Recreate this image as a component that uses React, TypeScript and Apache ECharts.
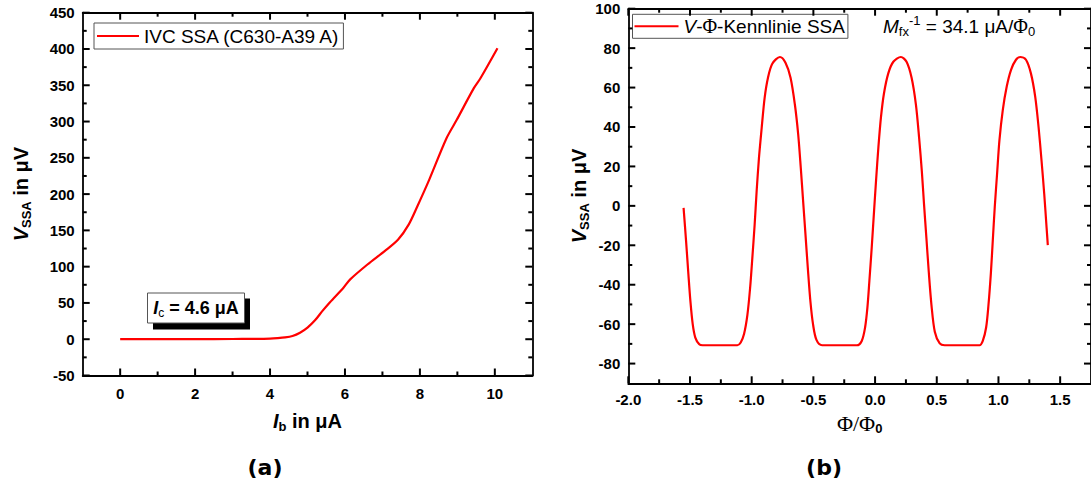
import React, { useEffect, useRef } from 'react';
import * as echarts from 'echarts';

// ---------- data ----------
// (a) IVC: bias current Ib in µA, voltage V_SSA in µV
const ibValues = [0, 1, 2, 3, 3.5, 4, 4.2, 4.4, 4.6, 4.8, 5.0, 5.2, 5.4, 5.6, 5.96, 6.14, 6.6, 7.06, 7.42, 7.7, 7.93, 8.25, 8.71, 8.98, 9.44, 9.62, 10.07];
const vssaIvc = [0, 0, 0.2, 0.3, 0.5, 0.9, 1.5, 2.5, 4.5, 9, 16, 26, 39, 51, 71, 82.5, 103, 121.5, 137.5, 158, 183, 220, 277, 302, 346, 360, 401];

// (b) V-Phi: flux in Phi0, voltage V_SSA in µV
const phiValues = [-1.552, -1.532, -1.513, -1.497, -1.478, -1.457, -1.425, -1.398, -1.116, -1.089, -1.062, -1.035, -1.013, -0.995, -0.976, -0.96, -0.941, -0.919, -0.895, -0.868, -0.833, -0.771, -0.726, -0.685, -0.65, -0.623, -0.602, -0.583, -0.564, -0.545, -0.524, -0.502, -0.475, -0.43, -0.148, -0.108, -0.081, -0.062, -0.046, -0.027, -0.008, 0.008, 0.027, 0.048, 0.072, 0.107, 0.148, 0.209, 0.255, 0.296, 0.331, 0.357, 0.379, 0.397, 0.416, 0.435, 0.457, 0.484, 0.524, 0.564, 0.847, 0.873, 0.9, 0.919, 0.938, 0.954, 0.97, 0.989, 1.008, 1.035, 1.067, 1.102, 1.142, 1.177, 1.223, 1.263, 1.298, 1.325, 1.349, 1.371, 1.39, 1.4];
const vssaPhi = [-1, -17.6, -34.6, -48.1, -60, -66.8, -70.2, -70.7, -70.7, -69.3, -65, -55.4, -41.8, -26.6, -9.6, 7.3, 24.3, 39.5, 54.8, 65, 72.1, 75.5, 72.6, 65, 51.4, 36.2, 19.2, 2.3, -14.6, -31.6, -48.5, -60.4, -68, -70.7, -70.7, -68.5, -61.7, -51.5, -38, -21, -2.4, 12.9, 29.8, 45.1, 57, 67.2, 73.1, 75.5, 73.1, 65, 51.4, 34.5, 17.5, 0.6, -16.3, -33.3, -50.3, -63.8, -69.8, -70.7, -70.7, -68.5, -61.7, -50.3, -34.6, -17.6, -0.6, 16.4, 33.3, 48.6, 60.5, 69, 74.1, 75.5, 74.1, 67.2, 55.3, 40, 23, 6, -11, -19.9];

// tick values
const leftXMajor = [0, 2, 4, 6, 8, 10];
const leftXMinor = [1, 3, 5, 7, 9];
const leftYMajor = [-50, 0, 50, 100, 150, 200, 250, 300, 350, 400, 450];
const leftYMinor = [-25, 25, 75, 125, 175, 225, 275, 325, 375, 425];
const rightXMajor = [-2, -1.5, -1, -0.5, 0, 0.5, 1, 1.5];
const rightXMinor = [-1.75, -1.25, -0.75, -0.25, 0.25, 0.75, 1.25];
const rightYMajor = [-80, -60, -40, -20, 0, 20, 40, 60, 80, 100];
const rightYMinor = [-70, -50, -30, -10, 10, 30, 50, 70, 90];

const seriesNameA = 'IVC SSA (C630-A39 A)';
const seriesNameB = 'V-Φ-Kennlinie SSA';

const FONT = "'Liberation Sans', Arial, Helvetica, sans-serif";
const SERIF = "'Liberation Serif', 'Times New Roman', serif";
const BLACK = '#000000';
const RED = '#ff0000';

const MAJOR_LEN = 7;
const MINOR_LEN = 4;
const TICK_W = 2;

type Ext = { min: number; max: number; ymin: number; ymax: number };
const L: Ext = { min: -1, max: 11, ymin: -50, ymax: 450 };
const R: Ext = { min: -2, max: 1.75, ymin: -90, ymax: 100 };

function labelStyle(ticks: number[], decimals: number, margin: number) {
  return {
    show: true,
    customValues: ticks,
    formatter: (v: number) => v.toFixed(decimals),
    fontSize: 15,
    fontWeight: 'bold',
    fontFamily: FONT,
    color: BLACK,
    margin,
  };
}

const titleRich = {
  b: { fontSize: 20, fontWeight: 'bold', fontFamily: FONT, color: BLACK, lineHeight: 24 },
  it: { fontSize: 20, fontWeight: 'bold', fontStyle: 'italic', fontFamily: FONT, color: BLACK, lineHeight: 24 },
  sub: { fontSize: 13, fontWeight: 'bold', fontFamily: FONT, color: BLACK, lineHeight: 10, verticalAlign: 'bottom' },
  phi: { fontSize: 22, fontFamily: SERIF, color: BLACK, lineHeight: 24 },
};

function valueAxis(gridIndex: number, position: string, min: number, max: number, extra: any) {
  return {
    type: 'value',
    gridIndex,
    position,
    min,
    max,
    splitLine: { show: false },
    axisTick: { show: false },
    axisLabel: { show: false },
    axisLine: { show: true, onZero: false, lineStyle: { color: BLACK, width: 1.8 } },
    ...extra,
  };
}

// static annotations
function annotationGraphics(): any[] {
  return [
    {
      type: 'group',
      left: 147,
      top: 292.5,
      children: [
        { type: 'rect', shape: { x: 5.5, y: 5.5, width: 97, height: 31 }, style: { fill: BLACK } },
        { type: 'rect', shape: { x: 0, y: 0, width: 97, height: 30 }, style: { fill: '#fff', stroke: '#555', lineWidth: 1 } },
        {
          type: 'text',
          x: 48.5,
          y: 15,
          style: {
            text: '{it|I}{sub|c}{b| = 4.6 μA}',
            align: 'center',
            verticalAlign: 'middle',
            rich: {
              b: { fontSize: 18, fontWeight: 'bold', fontFamily: FONT, fill: BLACK, lineHeight: 22 },
              it: { fontSize: 18, fontWeight: 'bold', fontStyle: 'italic', fontFamily: FONT, fill: BLACK, lineHeight: 22 },
              sub: { fontSize: 12, fontFamily: FONT, fill: BLACK, lineHeight: 9, verticalAlign: 'bottom' },
            },
          },
        },
      ],
    },
    {
      type: 'text',
      x: 883,
      y: 14,
      style: {
        text: '{it|M}{sub|fx}{sup|-1}{n| = 34.1 μA/}{phi|Φ}{sub|0}',
        align: 'left',
        verticalAlign: 'top',
        rich: {
          n: { fontSize: 19, fontFamily: FONT, fill: BLACK, lineHeight: 24 },
          it: { fontSize: 19, fontStyle: 'italic', fontFamily: FONT, fill: BLACK, lineHeight: 24 },
          phi: { fontSize: 20, fontFamily: SERIF, fill: BLACK, lineHeight: 24 },
          sub: { fontSize: 13, fontFamily: FONT, fill: BLACK, lineHeight: 10, verticalAlign: 'bottom' },
          sup: { fontSize: 13, fontFamily: FONT, fill: BLACK, lineHeight: 10, verticalAlign: 'top' },
        },
      },
    },
    {
      type: 'text',
      x: 265,
      y: 467,
      style: { text: '(a)', align: 'center', verticalAlign: 'middle', font: "bold 22px 'DejaVu Sans', sans-serif", fill: BLACK },
    },
    {
      type: 'text',
      x: 824,
      y: 467,
      style: { text: '(b)', align: 'center', verticalAlign: 'middle', font: "bold 22px 'DejaVu Sans', sans-serif", fill: BLACK },
    },
  ];
}

// inward tick marks on all four sides; positions come from the chart's own axis scales
function tickGraphics(chart: any, gridIndex: number, ext: Ext, xMajor: number[], xMinor: number[], yMajor: number[], yMinor: number[]) {
  const finder = { xAxisIndex: gridIndex, yAxisIndex: gridIndex };
  const out: any[] = [];
  const line = (x1: number, y1: number, x2: number, y2: number) =>
    out.push({ type: 'line', silent: true, z: 100, shape: { x1, y1, x2, y2 }, style: { stroke: BLACK, lineWidth: TICK_W } });
  const addX = (vals: number[], len: number) =>
    vals.forEach((v) => {
      const b = chart.convertToPixel(finder, [v, ext.ymin]);
      const t = chart.convertToPixel(finder, [v, ext.ymax]);
      line(b[0], b[1], b[0], b[1] - len);
      line(t[0], t[1], t[0], t[1] + len);
    });
  const addY = (vals: number[], len: number) =>
    vals.forEach((v) => {
      const l = chart.convertToPixel(finder, [ext.min, v]);
      const r = chart.convertToPixel(finder, [ext.max, v]);
      line(l[0], l[1], l[0] + len, l[1]);
      line(r[0], r[1], r[0] - len, r[1]);
    });
  addX(xMajor, MAJOR_LEN);
  addX(xMinor, MINOR_LEN);
  addY(yMajor, MAJOR_LEN);
  addY(yMinor, MINOR_LEN);
  return out;
}

function buildOption() {
  const xAxis: any[] = [
    valueAxis(0, 'bottom', L.min, L.max, {
      axisLabel: labelStyle(leftXMajor, 0, 10),
      name: '{it|I}{sub|b}{b| in μA}',
      nameLocation: 'middle',
      nameGap: 33,
      nameTextStyle: { rich: titleRich },
    }),
    valueAxis(1, 'bottom', R.min, R.max, {
      axisLabel: labelStyle(rightXMajor, 1, 9),
      name: '{phi|Φ/Φ}{sub|0}',
      nameLocation: 'middle',
      nameGap: 21,
      nameTextStyle: { rich: titleRich },
    }),
    valueAxis(0, 'top', L.min, L.max, {}),
    valueAxis(1, 'top', R.min, R.max, {}),
  ];

  const yAxis: any[] = [
    valueAxis(0, 'left', L.ymin, L.ymax, {
      axisLabel: labelStyle(leftYMajor, 0, 8),
      name: '{it|V}{sub|SSA}{b| in μV}',
      nameLocation: 'middle',
      nameRotate: 90,
      nameGap: 50,
      nameTextStyle: { rich: titleRich },
    }),
    valueAxis(1, 'left', R.ymin, R.ymax, {
      axisLabel: labelStyle(rightYMajor, 0, 8),
      name: '{it|V}{sub|SSA}{b| in μV}',
      nameLocation: 'middle',
      nameRotate: 90,
      nameGap: 37,
      nameTextStyle: { rich: titleRich },
    }),
    valueAxis(0, 'right', L.ymin, L.ymax, {}),
    valueAxis(1, 'right', R.ymin, R.ymax, {}),
  ];

  const legendText = { fontSize: 19, fontFamily: FONT, color: BLACK, lineHeight: 20 };

  return {
    animation: false,
    grid: [
      { left: 82.7, top: 12.7, width: 449.6, height: 362.8 },
      { left: 628.3, top: 8.7, width: 465, height: 374.6 },
    ],
    xAxis,
    yAxis,
    legend: [
      {
        data: [seriesNameA],
        left: 94,
        top: 23,
        icon: 'rect',
        itemWidth: 42,
        itemHeight: 2,
        padding: [3, 3, 3, 3],
        borderColor: '#555',
        borderWidth: 1,
        textStyle: legendText,
      },
      {
        data: [seriesNameB],
        left: 632.5,
        top: 14.3,
        icon: 'rect',
        itemWidth: 44,
        itemHeight: 2,
        padding: [2, 3, 2, 2],
        borderColor: '#555',
        borderWidth: 1,
        textStyle: {
          ...legendText,
          rich: {
            i: { fontSize: 19, fontStyle: 'italic', fontFamily: FONT, color: BLACK, lineHeight: 20 },
            p: { fontSize: 20, fontFamily: SERIF, color: BLACK, lineHeight: 20 },
            n: { fontSize: 19, fontFamily: FONT, color: BLACK, lineHeight: 20 },
          },
        },
        formatter: () => '{i|V}{n|-}{p|Φ}{n|-Kennlinie SSA}',
      },
    ],
    series: [
      {
        name: seriesNameA,
        type: 'line',
        xAxisIndex: 0,
        yAxisIndex: 0,
        data: ibValues.map((x, i) => [x, vssaIvc[i]]),
        showSymbol: false,
        symbol: 'none',
        smooth: 0.3,
        lineStyle: { color: RED, width: 2.2 },
        itemStyle: { color: RED },
      },
      {
        name: seriesNameB,
        type: 'line',
        xAxisIndex: 1,
        yAxisIndex: 1,
        data: phiValues.map((x, i) => [x, vssaPhi[i]]),
        showSymbol: false,
        symbol: 'none',
        smooth: 0.3,
        lineStyle: { color: RED, width: 2.2 },
        itemStyle: { color: RED },
      },
    ],
    graphic: annotationGraphics(),
  };
}

export default function App() {
  const ref = useRef<HTMLDivElement>(null);
  useEffect(() => {
    document.body.style.margin = '0';
    if (!ref.current) return;
    const chart = echarts.init(ref.current, null, { renderer: 'svg', width: 1091, height: 484 });
    chart.setOption(buildOption() as any);
    try {
      const ticks = [
        ...tickGraphics(chart, 0, L, leftXMajor, leftXMinor, leftYMajor, leftYMinor),
        ...tickGraphics(chart, 1, R, rightXMajor, rightXMinor, rightYMajor, rightYMinor),
      ];
      chart.setOption({ graphic: [...annotationGraphics(), ...ticks] } as any);
    } catch (e) {
      // keep the chart without tick marks if conversion fails
    }
    return () => chart.dispose();
  }, []);
  return <div ref={ref} style={{ width: 1091, height: 484 }} />;
}
